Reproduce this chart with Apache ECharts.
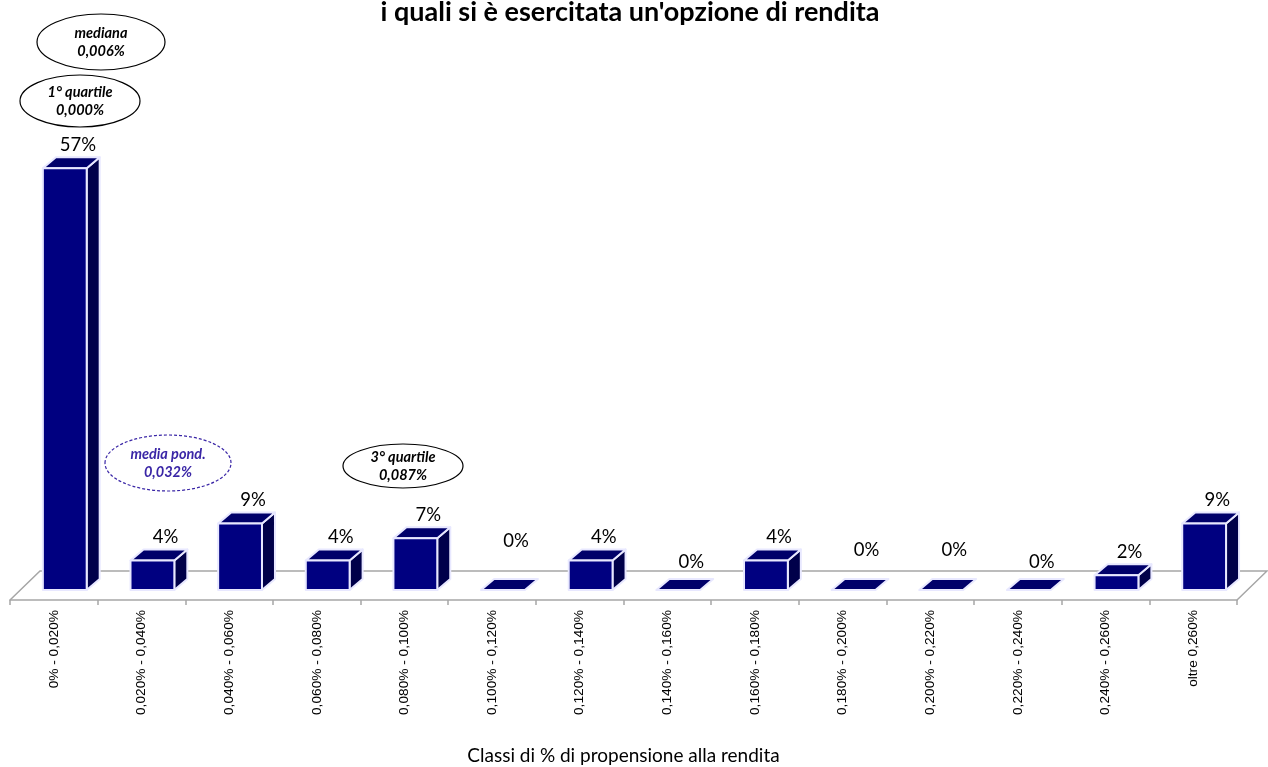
<!DOCTYPE html>
<html>
<head>
<meta charset="utf-8">
<title>Classi di % di propensione alla rendita</title>
<script src="https://cdn.jsdelivr.net/npm/echarts@6/dist/echarts.min.js"></script>
<style>
  html, body { margin: 0; padding: 0; background: #ffffff; }
  #chart { width: 1268px; height: 767px; }
</style>
</head>
<body>
<div id="chart"></div>
<script>
// Classes of annuity propensity (%)
const categories = [
  '0% - 0,020%', '0,020% - 0,040%', '0,040% - 0,060%', '0,060% - 0,080%',
  '0,080% - 0,100%', '0,100% - 0,120%', '0,120% - 0,140%', '0,140% - 0,160%',
  '0,160% - 0,180%', '0,180% - 0,200%', '0,200% - 0,220%', '0,220% - 0,240%',
  '0,240% - 0,260%', 'oltre 0,260%'
];
// Share of funds in each class (%)
const shares = [57, 4, 9, 4, 7, 0, 4, 0, 4, 0, 0, 0, 2, 9];

const titleText = "i quali si è esercitata un'opzione di rendita";
const axisTitle = 'Classi di % di propensione alla rendita';

// Summary statistics shown in the callout bubbles
const statNames = ['mediana', '1° quartile', 'media pond.', '3° quartile'];
const statValues = ['0,006%', '0,000%', '0,032%', '0,087%'];

// Vertical shift (px) of the value labels sitting above empty classes
const labelLift = [0, 0, 0, 0, 0, -26, 0, -5, 0, -17, -17, -5, 0, 0];

// 3D box geometry (px)
const BOX_DX = 13, BOX_DY = 11;     // depth of each box
const FLOOR_DX = 30, FLOOR_DY = 29; // depth of the floor
const LIFT = 10;                    // boxes stand a bit behind the floor front edge

const FRONT = '#000080', TOP = '#00006a', SIDE = '#00004a', EDGE = '#e8e8ff';

const chart = echarts.init(document.getElementById('chart'), null, { renderer: 'canvas' });

function renderBox(params, api) {
  const i = api.value(0), v = api.value(1);
  const base = api.coord([i, 0]);
  const peak = api.coord([i, v]);
  const band = api.size([1, 0])[0];
  const w = band * 0.5;
  const x0 = base[0] - band * 0.125;
  const x1 = x0 + w;
  const yb = base[1] - LIFT;
  const yt = peak[1] - LIFT;
  const edge = { stroke: EDGE, lineWidth: 2, lineJoin: 'round' };
  const children = [];
  if (v > 0) {
    children.push({
      type: 'polygon',
      shape: { points: [[x1, yt], [x1 + BOX_DX, yt - BOX_DY], [x1 + BOX_DX, yb - BOX_DY], [x1, yb]] },
      style: Object.assign({ fill: SIDE }, edge)
    });
  }
  children.push({
    type: 'polygon',
    shape: { points: [[x0, yt], [x1, yt], [x1 + BOX_DX, yt - BOX_DY], [x0 + BOX_DX, yt - BOX_DY]] },
    style: Object.assign({ fill: TOP }, edge)
  });
  if (v > 0) {
    children.push({
      type: 'rect',
      shape: { x: x0, y: yt, width: w, height: yb - yt },
      style: Object.assign({ fill: FRONT }, edge)
    });
  }
  children.push({
    type: 'text',
    style: {
      text: v + '%',
      x: base[0] + 24,
      y: yt - BOX_DY - 12 + labelLift[i],
      align: 'center',
      verticalAlign: 'middle',
      fontFamily: 'Lato',
      fontSize: 18.5,
      fill: '#000000'
    }
  });
  return { type: 'group', children: children };
}

function renderFloor(params, api) {
  const band = api.size([1, 0])[0];
  const first = api.coord([0, 0]);
  const last = api.coord([categories.length - 1, 0]);
  const L = first[0] - band / 2, R = last[0] + band / 2, y = first[1];
  return {
    type: 'polyline',
    shape: { points: [[L, y], [L + FLOOR_DX, y - FLOOR_DY], [R + FLOOR_DX, y - FLOOR_DY], [R, y]] },
    style: { fill: null, stroke: '#a6a6a6', lineWidth: 1.5 }
  };
}

function bubble(cx, cy, rx, ry, name, value, color, dashed) {
  return {
    type: 'group',
    children: [
      {
        type: 'ellipse',
        shape: { cx: cx, cy: cy, rx: rx, ry: ry },
        style: { fill: '#ffffff', stroke: color, lineWidth: 1.2, lineDash: dashed ? [3, 2] : null }
      },
      {
        type: 'text',
        style: {
          text: name + '\n' + value,
          x: cx, y: cy,
          align: 'center', verticalAlign: 'middle',
          fontFamily: 'Lato', fontSize: 14.5, fontWeight: 'bold', fontStyle: 'italic',
          lineHeight: 18, fill: color
        }
      }
    ]
  };
}

const option = {
  backgroundColor: '#ffffff',
  animation: false,
  grid: { left: 10, right: 31, top: 156, bottom: 167, containLabel: false, outerBoundsMode: 'none' },
  xAxis: {
    type: 'category',
    data: categories,
    boundaryGap: true,
    axisLine: { show: true, lineStyle: { color: '#a6a6a6', width: 1.5 } },
    axisTick: { show: true, length: 5, alignWithLabel: false, lineStyle: { color: '#a6a6a6', width: 1.5 } },
    axisLabel: {
      rotate: 90, margin: 10, interval: 0,
      fontFamily: 'Liberation Sans', fontSize: 13.7, color: '#000000'
    },
    name: axisTitle,
    nameLocation: 'middle',
    nameGap: 146,
    nameTextStyle: { fontFamily: 'Lato', fontSize: 19, color: '#000000' }
  },
  yAxis: {
    type: 'value', min: 0, max: 60, show: false,
    splitLine: { show: false }
  },
  series: [
    {
      type: 'custom',
      z: 1,
      clip: false,
      silent: true,
      data: [[0, 0]],
      renderItem: renderFloor
    },
    {
      type: 'custom',
      z: 2,
      clip: false,
      data: shares.map((v, i) => [i, v]),
      encode: { x: 0, y: 1 },
      renderItem: renderBox
    }
  ],
  graphic: [
    {
      type: 'text',
      style: {
        text: titleText, x: 630, y: 12,
        align: 'center', verticalAlign: 'middle',
        fontFamily: 'Lato', fontSize: 27, fontWeight: 'bold', fill: '#000000'
      }
    },
    bubble(101, 42, 64, 28, statNames[0], statValues[0], '#000000', false),
    bubble(80, 101, 60, 26, statNames[1], statValues[1], '#000000', false),
    bubble(168, 463, 63, 28, statNames[2], statValues[2], '#3a26a6', true),
    bubble(403, 466, 60, 22, statNames[3], statValues[3], '#000000', false)
  ]
};

chart.setOption(option);
</script>
</body>
</html>
